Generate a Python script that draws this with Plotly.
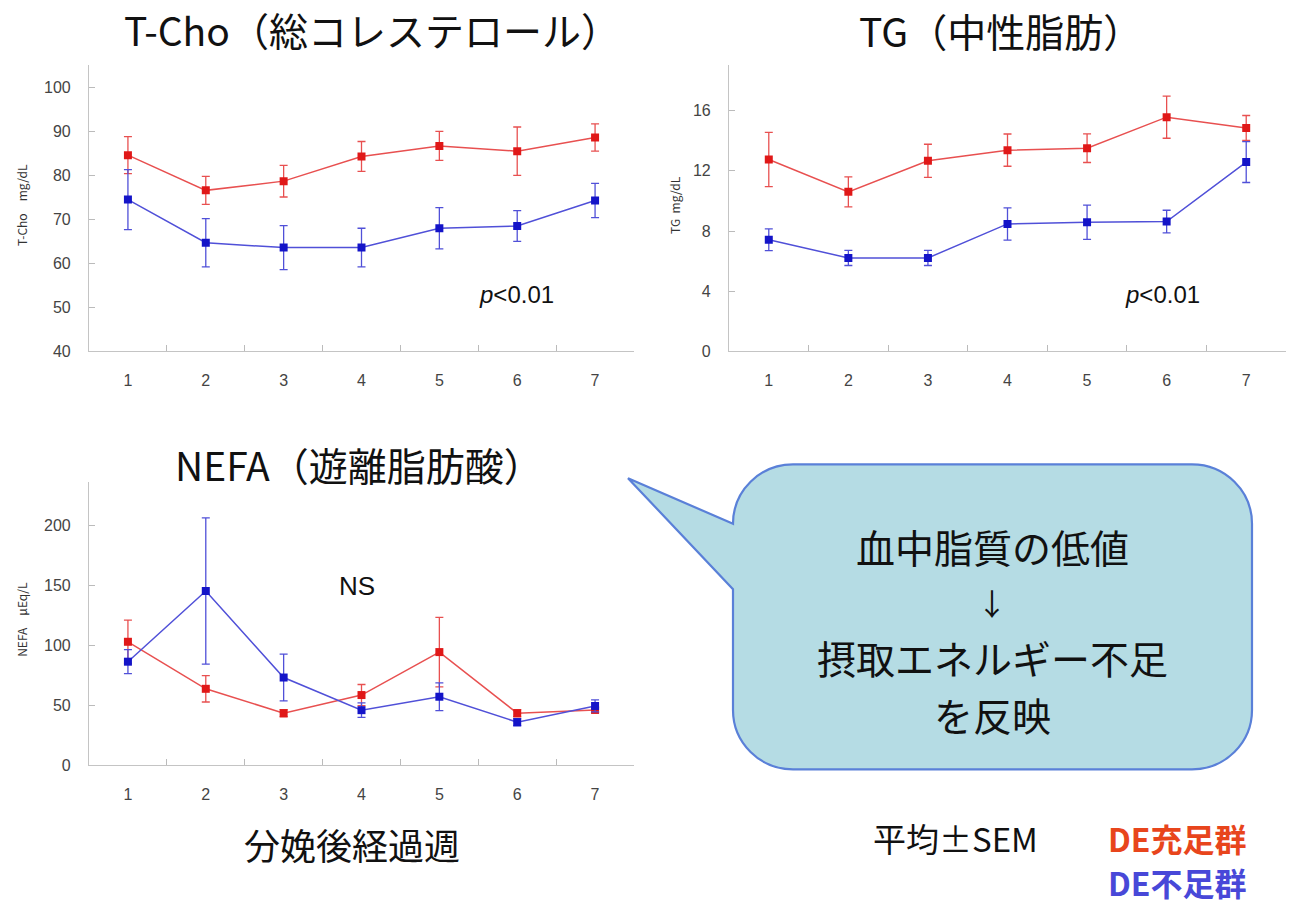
import plotly.graph_objects as go

# ---------------- data ----------------
weeks = ["1", "2", "3", "4", "5", "6", "7"]

tcho_ok = [84.6, 76.6, 78.7, 84.3, 86.7, 85.5, 88.6]
tcho_ok_err = [4.2, 3.2, 3.6, 3.4, 3.3, 5.5, 3.1]
tcho_low = [74.5, 64.7, 63.6, 63.6, 68.0, 68.5, 74.3]
tcho_low_err = [6.8, 5.5, 5.0, 4.4, 4.7, 3.5, 3.9]

tg_ok = [12.75, 10.6, 12.66, 13.37, 13.5, 15.56, 14.84]
tg_ok_err = [1.8, 1.0, 1.1, 1.07, 0.95, 1.4, 0.83]
tg_low = [7.42, 6.21, 6.21, 8.47, 8.58, 8.63, 12.58]
tg_low_err = [0.72, 0.5, 0.5, 1.07, 1.14, 0.75, 1.36]

nefa_ok = [103, 63.8, 43.5, 58.6, 94.4, 43.5, 46.2]
nefa_ok_err = [18, 11, 3, 8.8, 29, 3, 2]
nefa_low = [86.4, 145.3, 73.2, 46.0, 57.2, 36.0, 49.5]
nefa_low_err = [10, 61, 19.5, 6, 11.5, 3, 5]

tcho_ticks = [40, 50, 60, 70, 80, 90, 100]
tg_ticks = [0, 4, 8, 12, 16]
nefa_ticks = [0, 50, 100, 150, 200]

# ---------------- style ----------------
W, H = 1293, 911
RED_M, RED_L = "#e01818", "#e85050"
BLUE_M, BLUE_L = "#1414c8", "#5050d8"
CJK = "Noto Sans CJK JP"
TICKF = dict(family="Liberation Sans", size=16, color="#444")


def px(x):
    return x / W


def py(y):
    return 1 - y / H


fig = go.Figure()


def add_series(xa, ya, y, err, mcol, lcol):
    fig.add_trace(go.Scatter(
        x=weeks, y=y, xaxis=xa, yaxis=ya, mode="lines+markers",
        line=dict(color=lcol, width=1.5),
        marker=dict(symbol="square", size=8, color=mcol),
        error_y=dict(type="data", array=err, visible=True, color=lcol,
                     thickness=1.3, width=4),
        showlegend=False, hoverinfo="x+y"))


add_series("x", "y", tcho_ok, tcho_ok_err, RED_M, RED_L)
add_series("x", "y", tcho_low, tcho_low_err, BLUE_M, BLUE_L)
add_series("x2", "y2", tg_ok, tg_ok_err, RED_M, RED_L)
add_series("x2", "y2", tg_low, tg_low_err, BLUE_M, BLUE_L)
add_series("x3", "y3", nefa_ok, nefa_ok_err, RED_M, RED_L)
add_series("x3", "y3", nefa_low, nefa_low_err, BLUE_M, BLUE_L)

xcommon = dict(type="category", range=[-0.5, 6.5], tickson="boundaries",
               ticks="inside", ticklen=6, tickcolor="#bbb", showline=True,
               linecolor="#c4c4c4", linewidth=1.2, showgrid=False,
               zeroline=False, tickfont=TICKF, ticklabelstandoff=14,
               fixedrange=True)
ycommon = dict(ticks="inside", ticklen=6, tickcolor="#bbb", showline=True,
               linecolor="#c4c4c4", linewidth=1.2, showgrid=False,
               zeroline=False, tickfont=TICKF, ticklabelstandoff=14,
               fixedrange=True)

fig.update_layout(
    width=W, height=H, margin=dict(l=0, r=0, t=0, b=0),
    paper_bgcolor="white", plot_bgcolor="white",
    xaxis=dict(xcommon, domain=[px(89), px(634)], anchor="y"),
    yaxis=dict(ycommon, domain=[py(355), py(66)], range=[40, 105],
               tickvals=tcho_ticks, anchor="x"),
    xaxis2=dict(xcommon, domain=[px(729), px(1286)], anchor="y2"),
    yaxis2=dict(ycommon, domain=[py(355), py(66)], range=[0, 19],
                tickvals=tg_ticks, anchor="x2"),
    xaxis3=dict(xcommon, domain=[px(89), px(634)], anchor="y3"),
    yaxis3=dict(ycommon, domain=[py(773), py(487)], range=[0, 236],
                tickvals=nefa_ticks, anchor="x3"),
)

# ---------------- callout bubble ----------------
L, R, T, B, r = 733, 1252, 469, 777, 60
k = 0.552 * r
tip = (628, 483)
pts = [
    f"M {px(L)} {py(T + r)}",
    f"L {px(tip[0])} {py(tip[1])}",
    f"L {px(L)} {py(595)}",
    f"L {px(L)} {py(B - r)}",
    f"C {px(L)} {py(B - r + k)} {px(L + r - k)} {py(B)} {px(L + r)} {py(B)}",
    f"L {px(R - r)} {py(B)}",
    f"C {px(R - r + k)} {py(B)} {px(R)} {py(B - r + k)} {px(R)} {py(B - r)}",
    f"L {px(R)} {py(T + r)}",
    f"C {px(R)} {py(T + r - k)} {px(R - r + k)} {py(T)} {px(R - r)} {py(T)}",
    f"L {px(L + r)} {py(T)}",
    f"C {px(L + r - k)} {py(T)} {px(L)} {py(T + r - k)} {px(L)} {py(T + r)}",
    "Z",
]
fig.add_shape(type="path", xref="paper", yref="paper", path=" ".join(pts),
              fillcolor="#b5dce4", line=dict(color="#5a80d8", width=2.2),
              layer="above")

# ---------------- text ----------------
def txt(x, y, s, size, color="#111", family=CJK, angle=0, xanchor="center"):
    fig.add_annotation(x=px(x), y=py(y), xref="paper", yref="paper", text=s,
                       showarrow=False, xanchor=xanchor, yanchor="middle",
                       textangle=angle, align="center",
                       font=dict(family=family, size=size, color=color))


txt(372, 29, "T-Cho（総コレステロール）", 39)
txt(1000, 30, "TG（中性脂肪）", 39)
txt(359, 469, "NEFA（遊離脂肪酸）", 39)
txt(352, 852, "分娩後経過週", 36)

txt(22, 207, "T-Cho　mg/dL", 12, color="#333", angle=-90)
txt(675, 207, "TG  mg/dL", 12, color="#333", angle=-90)
txt(22, 626, "NEFA　μEq/L", 12, color="#333", angle=-90)

txt(516, 297, "<i>p</i>&lt;0.01", 24, family="Liberation Sans")
txt(1162, 297, "<i>p</i>&lt;0.01", 24, family="Liberation Sans")
txt(357, 592, "NS", 26, family="Liberation Sans")

txt(992, 551, "血中脂質の低値", 39)
txt(992, 608, "↓", 30)
txt(992, 664, "摂取エネルギー不足", 39)
txt(992, 721, "を反映", 39)

txt(955, 846, "平均±SEM", 33)
txt(1177, 846, "<b>DE充足群</b>", 32, color="#e8451c")
txt(1177, 891, "<b>DE不足群</b>", 32, color="#4848d8")

fig.write_html("out.html", config={"displayModeBar": False},
               post_script="document.body.style.margin='0px';")
